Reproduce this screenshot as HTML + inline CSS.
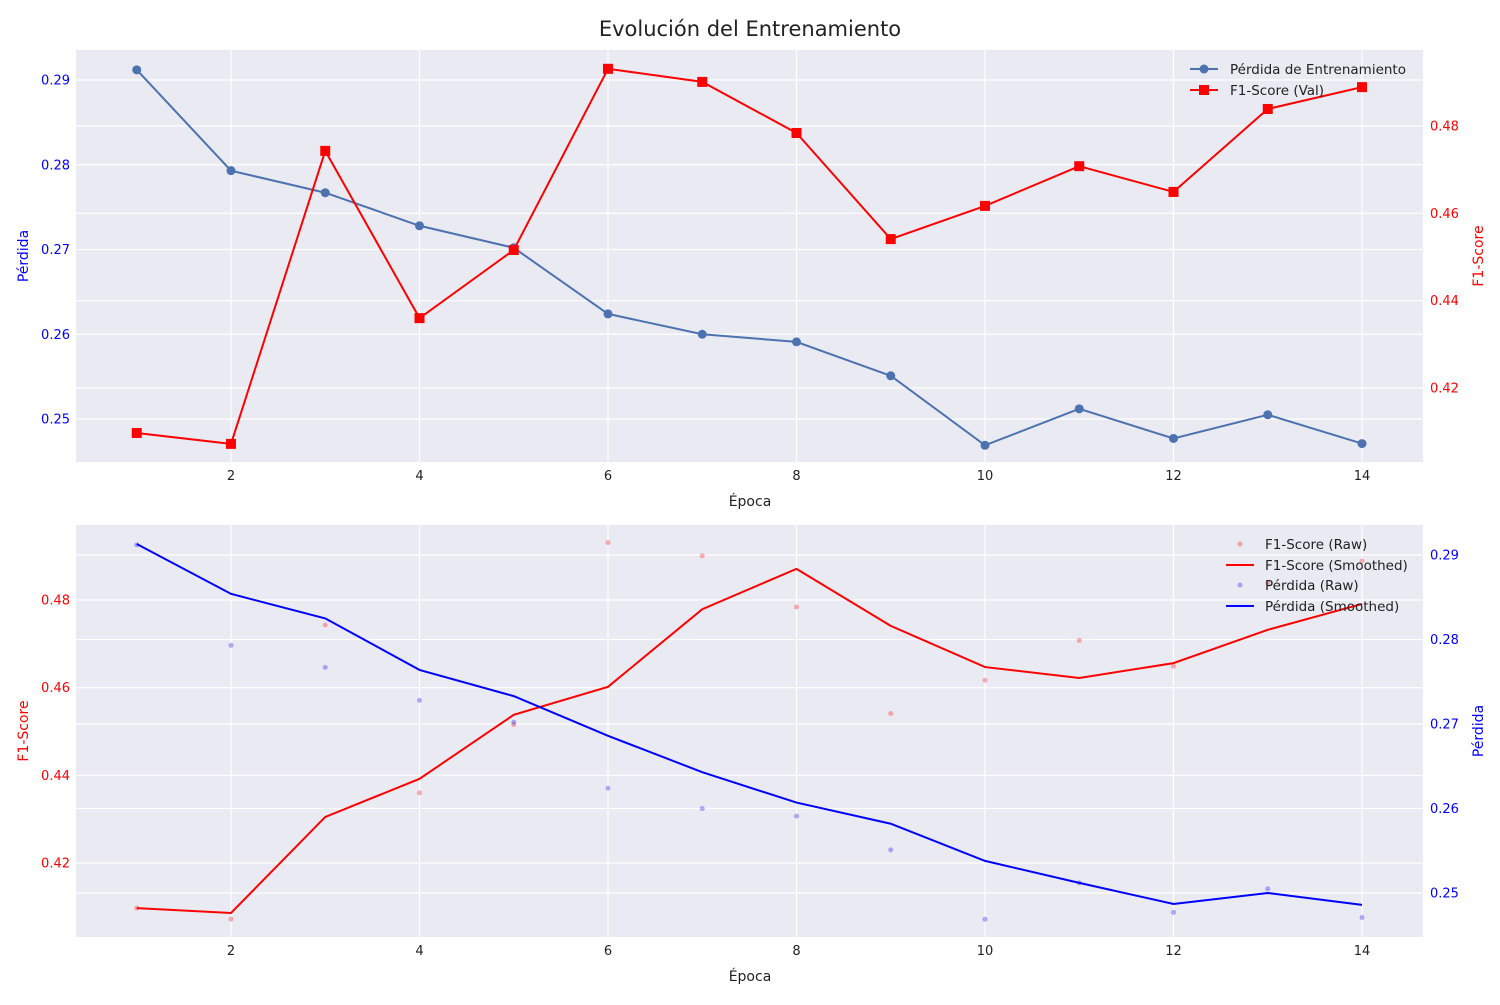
<!DOCTYPE html>
<html><head><meta charset="utf-8"><style>
body{margin:0;background:#fff;font-family:"Liberation Sans","DejaVu Sans",sans-serif}
svg text{font-family:"DejaVu Sans","Liberation Sans",sans-serif}
</style></head><body>
<svg id="c" width="1500" height="1000" xmlns="http://www.w3.org/2000/svg">
<text x="750" y="36" text-anchor="middle" font-size="21" fill="#222">Evolución del Entrenamiento</text>
</svg>
<script>
const epochs=[1,2,3,4,5,6,7,8,9,10,11,12,13,14];
const lossRaw=[0.2912,0.2793,0.2767,0.2728,0.2702,0.2624,0.2600,0.2591,0.2551,0.2469,0.2512,0.2477,0.2505,0.2471];
const f1Raw=[0.4097,0.4072,0.4743,0.4360,0.4516,0.4931,0.4901,0.4784,0.4541,0.4617,0.4708,0.4649,0.4839,0.4889];
const f1Smooth=[0.4097,0.4086,0.4305,0.4392,0.4538,0.4602,0.4779,0.4871,0.4741,0.4647,0.4622,0.4656,0.4732,0.4791];
const lossSmooth=[0.2913,0.2854,0.2825,0.2764,0.2733,0.2686,0.2643,0.2607,0.2582,0.2538,0.2512,0.2487,0.2500,0.2486];
const xTicks=[2,4,6,8,10,12,14];
const lossTicks=[0.25,0.26,0.27,0.28,0.29];
const f1Ticks=[0.42,0.44,0.46,0.48];
const svg=document.getElementById('c');const NS='http://www.w3.org/2000/svg';
function el(t,a,txt){const e=document.createElementNS(NS,t);for(const k in a)e.setAttribute(k,a[k]);if(txt!==undefined)e.textContent=txt;svg.appendChild(e);return e;}
const X=v=>136.75+(v-1)*94.25;
function lin(v0,p0,v1,p1){return v=>p0+(v-v0)*(p1-p0)/(v1-v0);}
const Ltop=lin(0.25,419,0.29,80), Ftop=lin(0.42,388,0.48,126);
const Fbot=lin(0.42,863,0.48,600), Lbot=lin(0.25,893,0.29,555);
function panel(y0,y1,leftS,leftT,leftLab,leftCol,rightS,rightT,rightLab,rightCol,pn){
  let r=el('rect',{x:76,y:y0,width:1347,height:y1-y0,fill:'#eaeaf2'});
  
  xTicks.forEach(t=>{el('line',{x1:X(t),x2:X(t),y1:y0,y2:y1,stroke:'#fff','stroke-width':1.2});
    let tx=el('text',{x:X(t),y:y1+18,'text-anchor':'middle','font-size':13,fill:'#222'},t);
    });
  leftT.forEach(t=>{el('line',{x1:76,x2:1423,y1:leftS(t),y2:leftS(t),stroke:'#fff','stroke-width':1.2});
    let tx=el('text',{x:70,y:leftS(t)+4.5,'text-anchor':'end','font-size':13,fill:leftCol},t.toFixed(2));
    });
  rightT.forEach(t=>{el('line',{x1:76,x2:1423,y1:rightS(t),y2:rightS(t),stroke:'#fff','stroke-width':1.2});
    let tx=el('text',{x:1430,y:rightS(t)+4.5,'font-size':13,fill:rightCol},t.toFixed(2));
    });
  const ym=(y0+y1)/2;
  let a=el('text',{x:28,y:ym,'text-anchor':'middle','font-size':14,fill:leftCol,transform:`rotate(-90 28 ${ym})`},leftLab);
  
  let b=el('text',{x:1483,y:ym,'text-anchor':'middle','font-size':14,fill:rightCol,transform:`rotate(-90 1483 ${ym})`},rightLab);
  
  let c=el('text',{x:750,y:y1+44,'text-anchor':'middle','font-size':14,fill:'#222'},'Época');
  
}
function pts(arr,S){return arr.map((v,i)=>X(epochs[i])+','+S(v)).join(' ');}
panel(50,462,Ltop,lossTicks,'Pérdida','#0000ff',Ftop,f1Ticks,'F1-Score','#ff0000','top');
let l1=el('polyline',{points:pts(lossRaw,Ltop),fill:'none',stroke:'#4c72b0','stroke-width':2});

lossRaw.forEach((v,i)=>{let m=el('circle',{cx:X(epochs[i]),cy:Ltop(v),r:4.5,fill:'#4c72b0'});
  });
let l2=el('polyline',{points:pts(f1Raw,Ftop),fill:'none',stroke:'#ff0000','stroke-width':2});

f1Raw.forEach((v,i)=>{let m=el('rect',{x:X(epochs[i])-5,y:Ftop(v)-5,width:10,height:10,fill:'#ff0000'});
  });
el('line',{x1:1190,x2:1218,y1:69,y2:69,stroke:'#4c72b0','stroke-width':2});el('circle',{cx:1204,cy:69,r:4.5,fill:'#4c72b0'});
let lg1=el('text',{x:1230,y:74,'font-size':13.5,fill:'#222'},'Pérdida de Entrenamiento');

el('line',{x1:1190,x2:1218,y1:90,y2:90,stroke:'#ff0000','stroke-width':2});el('rect',{x:1199,y:85,width:10,height:10,fill:'#ff0000'});
let lg2=el('text',{x:1230,y:95,'font-size':13.5,fill:'#222'},'F1-Score (Val)');


panel(525,937,Fbot,f1Ticks,'F1-Score','#ff0000',Lbot,lossTicks,'Pérdida','#0000ff','bottom');
f1Raw.forEach((v,i)=>{let m=el('circle',{cx:X(epochs[i]),cy:Fbot(v),r:2.5,fill:'#ff0000','fill-opacity':0.3});
  });
let l3=el('polyline',{points:pts(f1Smooth,Fbot),fill:'none',stroke:'#ff0000','stroke-width':2});

lossRaw.forEach((v,i)=>{let m=el('circle',{cx:X(epochs[i]),cy:Lbot(v),r:2.5,fill:'#0000ff','fill-opacity':0.3});
  });
let l4=el('polyline',{points:pts(lossSmooth,Lbot),fill:'none',stroke:'#0000ff','stroke-width':2});

el('circle',{cx:1240,cy:544,r:2.5,fill:'#ff0000','fill-opacity':0.3});
let b1=el('text',{x:1265,y:549,'font-size':13.5,fill:'#222'},'F1-Score (Raw)');
el('line',{x1:1226,x2:1254,y1:565,y2:565,stroke:'#ff0000','stroke-width':2});
let b2=el('text',{x:1265,y:570,'font-size':13.5,fill:'#222'},'F1-Score (Smoothed)');
el('circle',{cx:1240,cy:585,r:2.5,fill:'#0000ff','fill-opacity':0.3});
let b3=el('text',{x:1265,y:590,'font-size':13.5,fill:'#222'},'Pérdida (Raw)');
el('line',{x1:1226,x2:1254,y1:606,y2:606,stroke:'#0000ff','stroke-width':2});
let b4=el('text',{x:1265,y:611,'font-size':13.5,fill:'#222'},'Pérdida (Smoothed)');
</script>
</body></html>
